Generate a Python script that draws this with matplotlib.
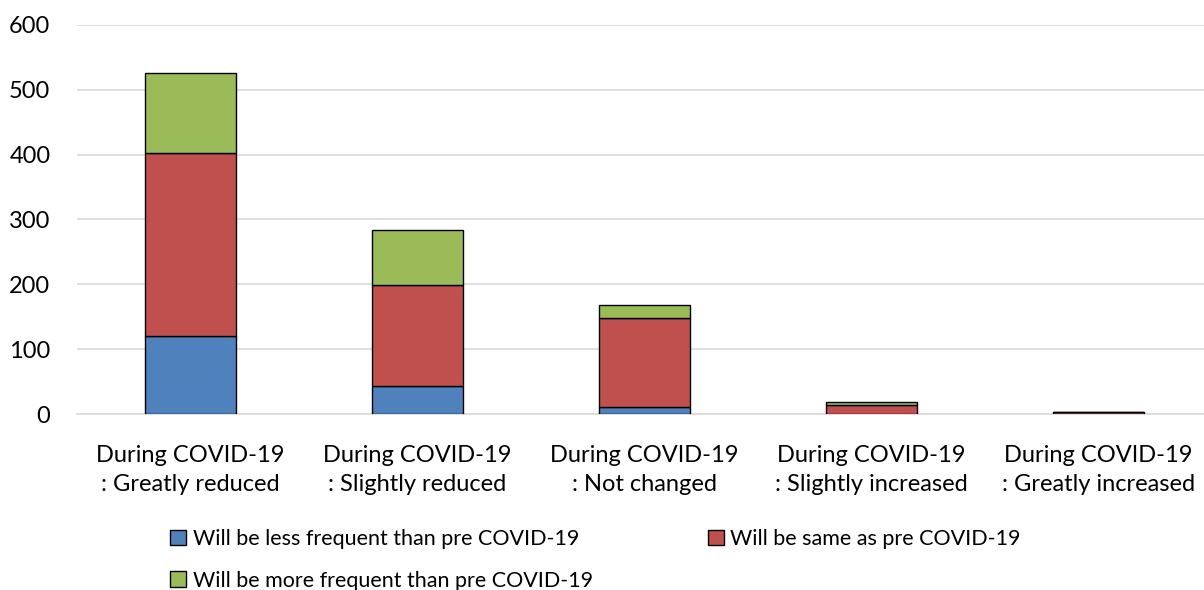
import matplotlib.pyplot as plt
import numpy as np

plt.rcParams['font.family'] = ['Lato', 'DejaVu Sans']

categories = ['During COVID-19\n: Greatly reduced', 'During COVID-19\n: Slightly reduced',
              'During COVID-19\n: Not changed', 'During COVID-19\n: Slightly increased',
              'During COVID-19\n: Greatly increased']
less_freq = [120, 43, 11, 1, 1]
same = [283, 156, 137, 13, 2]
more_freq = [123, 85, 20, 4, 1]
series_names = ['Will be less frequent than pre COVID-19',
                'Will be same as pre COVID-19',
                'Will be more frequent than pre COVID-19']
colors = ['#4f81bd', '#c0504d', '#9bbb59']

fig = plt.figure(figsize=(12.04, 5.9), dpi=100)
ax = fig.add_axes([0.0638, 0.298, 0.9427, 0.66])

x = np.arange(len(categories))
w = 0.4
bottom = np.zeros(len(categories))
bars = []
for vals, col, name in zip([less_freq, same, more_freq], colors, series_names):
    b = ax.bar(x, vals, w, bottom=bottom, color=col, edgecolor='black', linewidth=1, label=name, zorder=3)
    bars.append(b)
    bottom += np.array(vals)

ax.set_ylim(0, 600)
ax.set_xlim(-0.5, 4.5)
ax.set_yticks(range(0, 601, 100))
ax.yaxis.grid(True, color='#d9d9d9', linewidth=1.2, zorder=0)
ax.set_xticks(x)
ax.set_xticklabels(categories, fontsize=17, linespacing=1.5)
ax.tick_params(axis='y', labelsize=17, length=0, pad=19)
ax.tick_params(axis='x', length=0, pad=22)
for s in ['top', 'right', 'left']:
    ax.spines[s].set_visible(False)
ax.spines['bottom'].set_color('#d9d9d9')
ax.spines['bottom'].set_linewidth(1.2)

# two-column legend: less / more in the first column, same in the second
handles = [bars[0], bars[2], bars[1]]
labels = [series_names[0], series_names[2], series_names[1]]
fig.legend(handles, labels, loc='upper left', bbox_to_anchor=(0.134, 0.118), ncol=2,
           frameon=False, fontsize=15.5, handlelength=0.75, handleheight=0.75,
           handletextpad=0.3, columnspacing=5.35, labelspacing=1.0, borderaxespad=0)

fig.savefig('out.png', dpi=100)
